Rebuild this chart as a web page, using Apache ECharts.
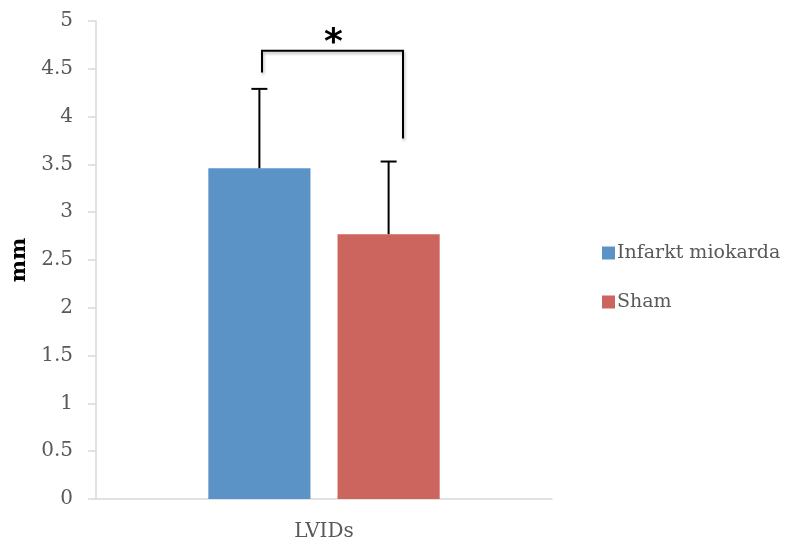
<!DOCTYPE html>
<html><head><meta charset="utf-8">
<script src="https://cdn.jsdelivr.net/npm/echarts@6/dist/echarts.min.js"></script>
<style>html,body{margin:0;padding:0;background:#fff}#c{width:792px;height:543px}</style>
</head><body><div id="c"></div>
<script>
const categories = ['LVIDs'];
const seriesNames = ['Infarkt miokarda', 'Sham'];
const infarktValues = [3.46];
const shamValues = [2.77];
const infarktUpper = [4.29];
const shamUpper = [3.53];
const yTicks = [0, 0.5, 1, 1.5, 2, 2.5, 3, 3.5, 4, 4.5, 5];
const colors = ['#5b93c7', '#cc655e'];

const FONT = 'DejaVu Serif';
const BAR_W = 0.224, BAR_GAP = 0.265;

function errItem(sign) {
  return function (params, api) {
    const band = api.size([1, 0])[0];
    const off = sign * band * (BAR_W + BAR_W * BAR_GAP) / 2;
    const base = api.coord([api.value(0), api.value(1)]);
    const top = api.coord([api.value(0), api.value(2)]);
    const x = base[0] + off;
    return {
      type: 'group', children: [
        { type: 'line', shape: { x1: x, y1: base[1], x2: x, y2: top[1] }, style: { stroke: '#000', lineWidth: 2 } },
        { type: 'line', shape: { x1: x - 8, y1: top[1], x2: x + 8, y2: top[1] }, style: { stroke: '#000', lineWidth: 2 } }
      ]
    };
  };
}

const chart = echarts.init(document.getElementById('c'), null, { renderer: 'canvas' });
chart.setOption({
  animation: false,
  backgroundColor: '#fff',
  grid: { left: 96, right: 240, top: 21, bottom: 44 },
  legend: {
    orient: 'vertical', left: 597, top: 238,
    data: seriesNames, icon: 'rect', itemWidth: 13, itemHeight: 13, itemGap: 29,
    textStyle: { fontFamily: FONT, fontSize: 19, color: '#595959', lineHeight: 20, padding: [0, 0, 0, -3] }
  },
  xAxis: {
    type: 'category', data: categories,
    axisLine: { lineStyle: { color: '#d9d9d9', width: 1.5 } },
    axisTick: { show: false },
    axisLabel: { fontFamily: FONT, fontSize: 20, color: '#595959', margin: 23 }
  },
  yAxis: {
    type: 'value', min: 0, max: 5, interval: 0.5,
    name: 'mm', nameLocation: 'middle', nameRotate: 90, nameGap: 66,
    nameTextStyle: { fontFamily: FONT, fontSize: 21, fontWeight: 'bold', color: '#000' },
    axisLine: { show: true, lineStyle: { color: '#d9d9d9', width: 1.5 } },
    axisTick: { show: true, length: 8, lineStyle: { color: '#d9d9d9', width: 1.5 } },
    splitLine: { show: false },
    axisLabel: { fontFamily: FONT, fontSize: 20, color: '#595959', margin: 23,
      formatter: v => yTicks.includes(v) ? String(v) : '' }
  },
  series: [
    { name: seriesNames[0], type: 'bar', data: infarktValues, barWidth: (BAR_W * 100) + '%', barGap: (BAR_GAP * 100) + '%', itemStyle: { color: colors[0] } },
    { name: seriesNames[1], type: 'bar', data: shamValues, barWidth: (BAR_W * 100) + '%', itemStyle: { color: colors[1] } },
    { type: 'custom', data: [[0, infarktValues[0], infarktUpper[0]]], renderItem: errItem(-1), z: 5, silent: true },
    { type: 'custom', data: [[0, shamValues[0], shamUpper[0]]], renderItem: errItem(1), z: 5, silent: true }
  ]
});

// significance bracket annotation
const band = chart.convertToPixel({ xAxisIndex: 0 }, 0);
const yTop = chart.convertToPixel({ yAxisIndex: 0 }, 4.69);
const yLeftEnd = chart.convertToPixel({ yAxisIndex: 0 }, 4.46);
const yRightEnd = chart.convertToPixel({ yAxisIndex: 0 }, 3.77);
const xL = band - 62, xR = band + 79;
const sh = { shadowBlur: 3, shadowColor: 'rgba(0,0,0,0.3)', shadowOffsetX: 1, shadowOffsetY: 2 };
chart.setOption({
  graphic: [
    { type: 'polyline', shape: { points: [[xL, yLeftEnd], [xL, yTop], [xR, yTop], [xR, yRightEnd]] },
      style: Object.assign({ stroke: '#000', lineWidth: 2, fill: null }, sh), z: 10 },
    { type: 'text', x: (xL + xR) / 2 + 1, y: yTop + 11,
      style: { text: '*', fontFamily: 'DejaVu Sans', fontWeight: 'bold', fontSize: 36, fill: '#000', align: 'center', verticalAlign: 'bottom' }, z: 10 }
  ]
});
</script></body></html>
